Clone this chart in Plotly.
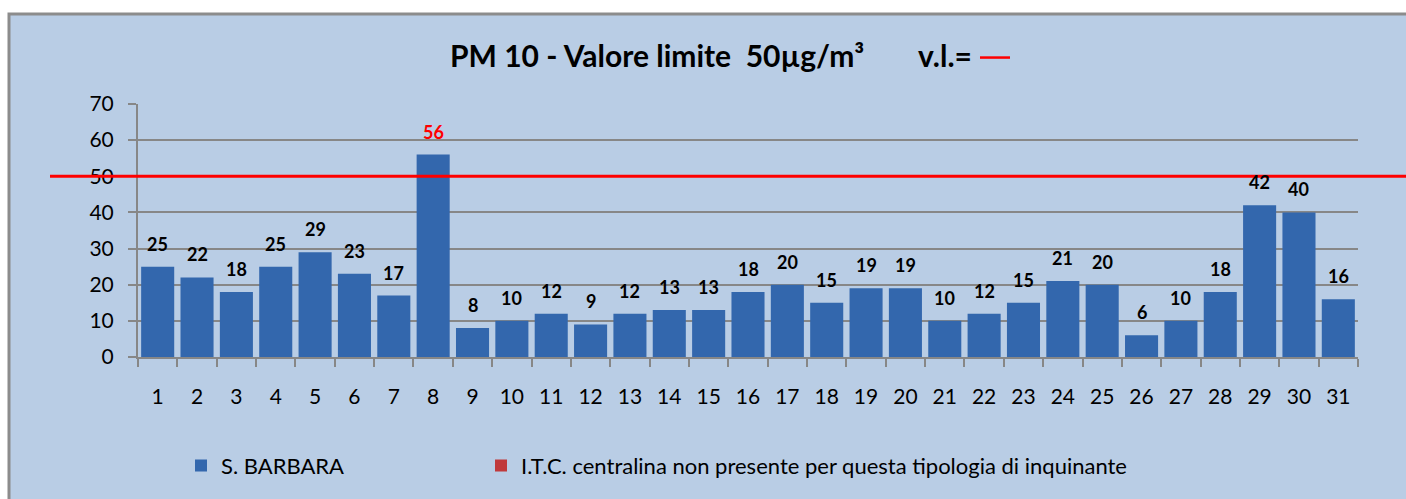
import plotly.graph_objects as go

days = [str(i) for i in range(1, 32)]
pm10 = [25, 22, 18, 25, 29, 23, 17, 56, 8, 10, 12, 9, 12, 13, 13, 18, 20, 15, 19, 19,
        10, 12, 15, 21, 20, 6, 10, 18, 42, 40, 16]
limit_value = 50
y_ticks = [0, 10, 20, 30, 40, 50, 60, 70]
series_name = "S. BARBARA"
other_name = "I.T.C. centralina non presente per questa tipologia di inquinante"

FONT = "Lato"
BG = "#B9CDE5"
GRID = "#878787"

fig = go.Figure()
fig.add_trace(go.Bar(
    x=days, y=pm10, name=series_name,
    marker=dict(color="#3367AD", line=dict(width=0)),
    width=0.84, legend="legend",
))
fig.add_trace(go.Bar(
    x=days, y=[None] * len(days), name=other_name,
    marker=dict(color="#C0393B", line=dict(width=0)),
    legend="legend2",
))

annotations = []
for i, v in enumerate(pm10):
    annotations.append(dict(
        x=i, y=v, xref="x", yref="y", text=f"<b>{v}</b>", showarrow=False,
        yanchor="bottom", yshift=10,
        font=dict(family=FONT, size=18, color="red" if v > limit_value else "black"),
    ))

# title pieces
annotations.append(dict(
    x=(657 - 138) / 1220, y=(360 - 54) / 256, xref="paper", yref="paper",
    text="<b>PM 10 - Valore limite  50µg/m³</b>", showarrow=False,
    xanchor="center", yanchor="middle",
    font=dict(family=FONT, size=30, color="black"),
))
annotations.append(dict(
    x=(945 - 138) / 1220, y=(360 - 54) / 256, xref="paper", yref="paper",
    text="<b>v.l.=</b>", showarrow=False,
    xanchor="center", yanchor="middle",
    font=dict(family=FONT, size=30, color="black"),
))

shapes = [
    # outer chart frame
    dict(type="rect", xref="paper", yref="paper",
         x0=(9 - 138) / 1220, x1=(1420 - 138) / 1220,
         y0=(360 - 520) / 256, y1=(360 - 13) / 256,
         fillcolor=BG, line=dict(color="#8C8C8C", width=3), layer="below"),
    # limit line
    dict(type="line", xref="paper", yref="y",
         x0=(50 - 138) / 1220, x1=(1406 - 138) / 1220,
         y0=limit_value, y1=limit_value,
         line=dict(color="#FF0000", width=3)),
    # red dash in title
    dict(type="line", xref="paper", yref="paper",
         x0=(980 - 138) / 1220, x1=(1010 - 138) / 1220,
         y0=(360 - 57) / 256, y1=(360 - 57) / 256,
         line=dict(color="#FF0000", width=2.5)),
]

legend_common = dict(
    orientation="h", yanchor="middle", xanchor="left",
    font=dict(family=FONT, size=22, color="black"),
    bgcolor="rgba(0,0,0,0)", borderwidth=0,
)

fig.update_layout(
    width=1406, height=499,
    margin=dict(l=138, r=48, t=104, b=139),
    paper_bgcolor="white",
    plot_bgcolor="rgba(0,0,0,0)",
    bargap=0.16,
    barmode="overlay",
    showlegend=True,
    legend=dict(x=(181 - 138) / 1220, y=(360 - 470) / 256, **legend_common),
    legend2=dict(x=(481 - 138) / 1220, y=(360 - 470) / 256, **legend_common),
    annotations=annotations,
    shapes=shapes,
    font=dict(family=FONT, color="black"),
)

fig.update_xaxes(
    type="category",
    showgrid=False,
    showline=True, linecolor=GRID, linewidth=2,
    ticks="outside", tickson="boundaries", ticklen=8, tickcolor=GRID, tickwidth=1.5,
    tickfont=dict(family=FONT, size=21, color="black"),
    ticklabelstandoff=20,
    range=[-0.5, 30.5],
)
fig.update_yaxes(
    range=[0, 70],
    tickvals=y_ticks,
    showgrid=True, gridcolor=GRID, gridwidth=1.5,
    showline=True, linecolor=GRID, linewidth=2,
    ticks="outside", ticklen=8, tickcolor=GRID, tickwidth=1.5,
    tickfont=dict(family=FONT, size=21, color="black"),
    ticklabelstandoff=10,
    zeroline=False,
)

fig.write_html(
    "out.html",
    config={"displayModeBar": False},
    post_script="document.body.style.margin='0px';document.body.style.overflow='hidden';",
)
